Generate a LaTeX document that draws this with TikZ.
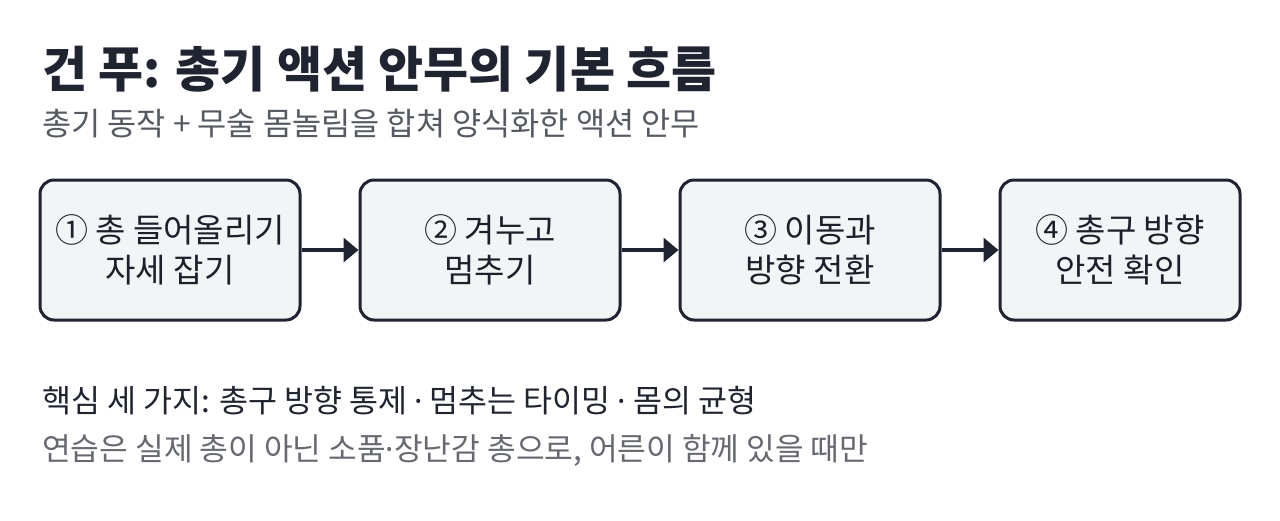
\documentclass[tikz,border=0pt]{standalone}
\usepackage{fontspec}
\setmainfont{Noto Sans CJK KR}
\newfontfamily\latinfont{Noto Sans}
\usepackage{tikz}
\usetikzlibrary{arrows.meta,positioning}
\definecolor{ink}{HTML}{1F2430}
\definecolor{boxfill}{HTML}{F3F4F6}
\definecolor{subgray}{HTML}{555A62}
\definecolor{notegray}{HTML}{666A70}
\newcommand{\mdot}{{\latinfont ·}}

\begin{document}
\begin{tikzpicture}[x=1pt,y=-1pt,
  stepbox/.style={rectangle,rounded corners=14pt,draw=ink,line width=3pt,fill=boxfill,
    minimum height=140pt,inner sep=0pt,align=center,font=\fontsize{33}{40}\selectfont,text=ink!90!black},
  flow/.style={-{Triangle[length=15pt,width=24pt]},draw=ink,line width=3.5pt},
  txt/.style={anchor=base west,inner sep=0pt}]
\useasboundingbox[fill=white] (0,0) rectangle (1280,520);
\node[txt,font=\fontsize{49}{56}\selectfont\bfseries,text=ink] (title) at (42,87) {건 푸: 총기 액션 안무의 기본 흐름};
\node[txt,font=\fontsize{31.7}{36}\selectfont,text=subgray] (sub) at (42,135) {총기 동작 + 무술 몸놀림을 합쳐 양식화한 액션 안무};
\foreach \i/\x/\w/\t in {1/170/260/{① 총 들어올리기\\자세 잡기},2/490/260/{② 겨누고\\멈추기},
                          3/810/260/{③ 이동과\\방향 전환},4/1120/240/{④ 총구 방향\\안전 확인}}{
  \node[stepbox,minimum width=\w pt] (B\i) at (\x,250) {\t};
}
\foreach \a/\b in {1/2,2/3,3/4}{\draw[flow] (B\a.east) -- (B\b.west);}
\node[txt,font=\fontsize{31.5}{36}\selectfont,text=ink] (key) at (42,412) {핵심 세 가지: 총구 방향 통제 \mdot{} 멈추는 타이밍 \mdot{} 몸의 균형};
\node[txt,font=\fontsize{31.2}{36}\selectfont,text=notegray] (note) at (42,460) {연습은 실제 총이 아닌 소품\mdot{}장난감 총으로, 어른이 함께 있을 때만};
\end{tikzpicture}
\end{document}
